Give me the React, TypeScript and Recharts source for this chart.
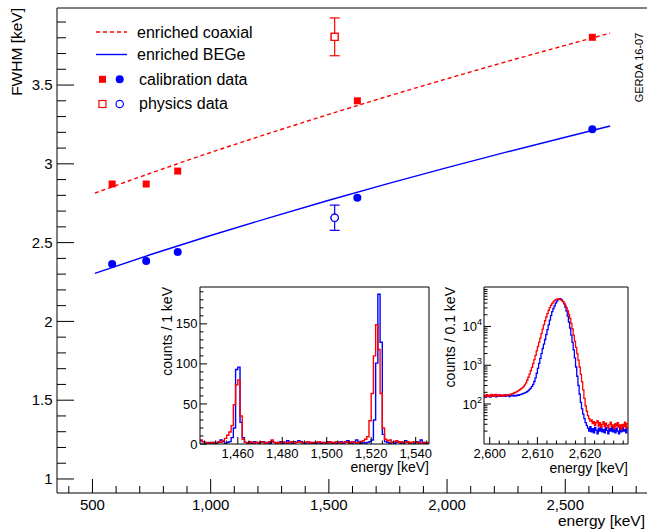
import React from 'react';
import { ComposedChart, LineChart, Line, Scatter, XAxis, YAxis, ErrorBar, ReferenceLine } from 'recharts';

const RED = '#ff0000';
const BLUE = '#0000ff';
const FONT = '"Liberation Sans", Arial, Helvetica, sans-serif';

// ---- main panel: FWHM vs energy ----
const calEnergies = [583.2, 727.3, 860.6, 1620.5, 2614.5];
const coaxCal = [2.872, 2.872, 2.954, 3.4, 3.803];
const begeCal = [2.364, 2.383, 2.44, 2.785, 3.219];

const physEnergy = [1524.6];
const coaxPhys = [3.806];
const coaxPhysErr = [0.12];
const begePhys = [2.658];
const begePhysErr = [0.08];

const fitEnergies = [510, 750, 1000, 1250, 1500, 1750, 2000, 2250, 2500, 2690];
const coaxFit = [2.814, 2.943, 3.072, 3.195, 3.314, 3.429, 3.54, 3.648, 3.752, 3.83];
const begeFit = [2.305, 2.426, 2.545, 2.659, 2.769, 2.874, 2.976, 3.074, 3.169, 3.24];

const X_DOMAIN = [350, 2850];
const Y_DOMAIN = [0.911, 3.989];
const xMajor = [500, 1000, 1500, 2000, 2500];
const yMajor = [1, 1.5, 2, 2.5, 3, 3.5];

// ---- inset 1: 1 keV bins starting at 1443 keV ----
const BIN1_START = 1443;
const begeCounts1 = [
  4, 3, 2, 1, 2, 1, 2, 1, 2, 5, 3, 1, 2, 3, 8, 20, 93, 96, 27, 8,
  2, 1, 2, 1, 3, 2, 1, 2, 3, 1, 2, 1, 3, 2, 1, 2, 3, 1, 2, 4,
  2, 1, 3, 2, 4, 3, 2, 1, 3, 2, 1, 2, 1, 3, 1, 2, 1, 3, 2, 1,
  2, 1, 2, 3, 1, 2, 4, 2, 1, 3, 5, 2, 1, 2, 1, 2, 3, 5, 30, 101,
  187, 127, 12, 3, 2, 1, 2, 1, 2, 3, 1, 2, 4, 2, 1, 2, 1, 3, 2, 5,
  2, 1, 1,
];
const coaxCounts1 = [
  5, 3, 2, 1, 1, 2, 1, 2, 3, 2, 4, 7, 11, 15, 23, 49, 74, 80, 35, 6,
  2, 1, 3, 2, 1, 2, 1, 3, 2, 1, 2, 3, 5, 2, 1, 2, 1, 3, 2, 1,
  2, 3, 1, 2, 3, 2, 1, 2, 3, 1, 2, 1, 2, 3, 2, 1, 2, 1, 3, 2,
  1, 3, 2, 1, 2, 3, 2, 1, 3, 2, 1, 2, 3, 4, 6, 9, 29, 63, 110, 149,
  118, 63, 20, 6, 4, 5, 2, 3, 4, 2, 3, 1, 2, 3, 1, 2, 3, 2, 1, 2,
  1, 2, 1,
];

// ---- inset 2: 0.25 keV steps starting at 2598.75 keV (counts / 0.1 keV) ----
const BIN2_START = 2598.75;
const BIN2_WIDTH = 0.25;
const begeCounts2 = [
  160, 148, 170, 155, 165, 150, 172, 158,
  163, 175, 152, 168, 160, 170, 157, 166,
  161, 173, 158, 164, 168, 155, 166, 162,
  170, 160, 166, 163, 172, 168, 175, 178,
  183, 188, 194, 200, 208, 220, 238, 258,
  285, 320, 380, 470, 620, 830, 1120, 1500,
  2000, 2700, 3500, 4600, 6200, 8300, 11000, 14500,
  19000, 24000, 29000, 34000, 40000, 45000, 49000, 52000,
  51500, 48500, 44000, 38000, 31500, 25000, 18500, 13000,
  9000, 6000, 3900, 2500, 1550, 900, 520, 300,
  180, 110, 75, 55, 42, 33, 28, 24,
  20, 26, 19, 23, 18, 25, 21, 17,
  24, 20, 26, 19, 22, 18, 25, 21,
  17, 23, 20, 26, 19, 22, 18, 24,
  20, 17, 23, 19, 25, 20, 22, 18,
  24,
];
const coaxCounts2 = [
  165, 152, 175, 160, 170, 158, 178, 162,
  172, 160, 176, 165, 158, 174, 163, 170,
  160, 168, 175, 165, 172, 170, 178, 182,
  186, 192, 198, 205, 214, 224, 235, 248,
  262, 280, 310, 350, 410, 490, 590, 720,
  880, 1100, 1400, 1800, 2350, 3000, 3900, 5000,
  6500, 8500, 11000, 14000, 17500, 21500, 26000, 30500,
  35000, 39000, 43000, 46500, 49000, 50500, 51000, 50000,
  49000, 47000, 44000, 40000, 35500, 30500, 25500, 20500,
  16000, 12000, 8600, 6000, 4200, 2900, 2000, 1350,
  900, 580, 370, 230, 140, 90, 65, 50,
  42, 36, 39, 31, 35, 28, 33, 37,
  27, 33, 25, 30, 35, 26, 32, 28,
  24, 30, 34, 26, 29, 23, 31, 27,
  33, 25, 29, 22, 30, 26, 34, 24,
  31,
];

// tables for recharts
const pts = (xs: number[], ys: number[], errs?: number[]) =>
  xs.map((e, i) => ({ e, v: ys[i], err: errs ? errs[i] : 0 }));

const coaxCalData = pts(calEnergies, coaxCal);
const begeCalData = pts(calEnergies, begeCal);
const coaxPhysData = pts(physEnergy, coaxPhys, coaxPhysErr);
const begePhysData = pts(physEnergy, begePhys, begePhysErr);
const coaxFitData = pts(fitEnergies, coaxFit);
const begeFitData = pts(fitEnergies, begeFit);

const histTable = (start: number, width: number, blue: number[], red: number[]) => {
  const rows = blue.map((b, i) => ({ e: start + i * width, blue: b, red: red[i] }));
  rows.push({ e: start + blue.length * width, blue: blue[blue.length - 1], red: red[red.length - 1] });
  return rows;
};
const peak1Data = histTable(BIN1_START, 1, begeCounts1, coaxCounts1);
const peak2Data = histTable(BIN2_START, BIN2_WIDTH, begeCounts2, coaxCounts2);

const range = (a: number, b: number, step: number) => {
  const out: number[] = [];
  for (let v = a; v <= b + 1e-9; v += step) out.push(Math.round(v * 1000) / 1000);
  return out;
};
const near = (v: number, list: number[]) => list.some((m) => Math.abs(m - v) < 1e-6);
const comma = (v: number) => v.toLocaleString('en-US');

const xTicks = range(400, 2800, 100);
const yTicks = range(1, 3.9, 0.1);

const MainXTick = ({ x, y, payload }: any) => {
  const major = near(payload.value, xMajor);
  return (
    <g>
      <line x1={x} x2={x} y1={y} y2={y - (major ? 14 : 7)} stroke="#000" />
      {major && (
        <text x={x} y={y + 17} textAnchor="middle" fontSize={15} fontFamily={FONT} fill="#000">
          {comma(payload.value)}
        </text>
      )}
    </g>
  );
};

const MainYTick = ({ x, y, payload }: any) => {
  const major = near(payload.value, yMajor);
  return (
    <g>
      <line x1={x} x2={x + (major ? 17 : 9)} y1={y} y2={y} stroke="#000" />
      {major && (
        <text x={x - 4.5} y={y + 5.3} textAnchor="end" fontSize={15} fontFamily={FONT} fill="#000">
          {String(payload.value)}
        </text>
      )}
    </g>
  );
};

const makeInsetX = (majors: number[]) => ({ x, y, payload }: any) => {
  const major = near(payload.value, majors);
  return (
    <g>
      <line x1={x} x2={x} y1={y} y2={y - (major ? 7 : 3.5)} stroke="#000" />
      {major && (
        <text x={x} y={y + 13.5} textAnchor="middle" fontSize={13} fontFamily={FONT} fill="#000">
          {comma(payload.value)}
        </text>
      )}
    </g>
  );
};

const makeInsetY = (majors: number[], log: boolean) => ({ x, y, payload }: any) => {
  const major = near(payload.value, majors);
  return (
    <g>
      <line x1={x} x2={x + (major ? 7 : 3.5)} y1={y} y2={y} stroke="#000" />
      {major && !log && (
        <text x={x - 2.5} y={y + 4.6} textAnchor="end" fontSize={13} fontFamily={FONT} fill="#000">
          {String(payload.value)}
        </text>
      )}
      {major && log && (
        <text x={x - 2} y={y + 4.6} textAnchor="end" fontSize={13} fontFamily={FONT} fill="#000">
          <tspan>10</tspan>
          <tspan dy={-6} fontSize={9}>{String(Math.round(Math.log10(payload.value)))}</tspan>
        </text>
      )}
    </g>
  );
};

const peak1XMajor = [1460, 1480, 1500, 1520, 1540];
const peak1YMajor = [0, 50, 100, 150];
const peak2XMajor = [2600, 2610, 2620];
const peak2YMajor = [100, 1000, 10000];
const peak2YTicks = [20, 30, 40, 50, 60, 70, 80, 90, 100, 200, 300, 400, 500, 600, 700, 800, 900, 1000,
  2000, 3000, 4000, 5000, 6000, 7000, 8000, 9000, 10000, 20000, 30000, 40000, 50000, 60000, 70000, 80000, 90000];

const Peak1XTick = makeInsetX(peak1XMajor);
const Peak1YTick = makeInsetY(peak1YMajor, false);
const Peak2XTick = makeInsetX(peak2XMajor);
const Peak2YTick = makeInsetY(peak2YMajor, true);

const filledSquare = (p: any) => <rect x={p.cx - 3.5} y={p.cy - 3.5} width={7} height={7} fill={RED} />;
const filledCircle = (p: any) => <circle cx={p.cx} cy={p.cy} r={4} fill={BLUE} />;
const openSquare = (p: any) => (
  <rect x={p.cx - 3.5} y={p.cy - 3.5} width={7} height={7} fill="#fff" stroke={RED} strokeWidth={1.2} />
);
const openCircle = (p: any) => <circle cx={p.cx} cy={p.cy} r={3.7} fill="#fff" stroke={BLUE} strokeWidth={1.2} />;

const txt = { fontFamily: FONT, fill: '#000' };

const App: React.FC = () => {
  return (
    <div style={{ position: 'absolute', left: 0, top: 0, width: 647, height: 529, overflow: 'hidden', background: '#fff' }}>
      <div style={{ position: 'absolute', left: 0, top: 0 }}>
        <ComposedChart width={649} height={529} margin={{ top: 8, right: 1, bottom: 0, left: 0 }}>
          <XAxis
            dataKey="e"
            type="number"
            domain={X_DOMAIN}
            allowDataOverflow
            ticks={xTicks}
            interval={0}
            tick={MainXTick}
            tickLine={false}
            tickSize={0}
            tickMargin={0}
            height={36}
            axisLine={{ stroke: '#000' }}
          />
          <YAxis
            dataKey="v"
            type="number"
            domain={Y_DOMAIN}
            allowDataOverflow
            ticks={yTicks}
            interval={0}
            tick={MainYTick}
            tickLine={false}
            tickSize={0}
            tickMargin={0}
            width={57}
            axisLine={{ stroke: '#000' }}
          />
          <ReferenceLine y={Y_DOMAIN[1]} stroke="#000" />
          <Line data={coaxFitData} dataKey="v" type="monotone" stroke={RED} strokeWidth={1.4} strokeDasharray="4 3" dot={false} isAnimationActive={false} />
          <Line data={begeFitData} dataKey="v" type="monotone" stroke={BLUE} strokeWidth={1.4} dot={false} isAnimationActive={false} />
          <Scatter data={coaxCalData} dataKey="v" shape={filledSquare} isAnimationActive={false} />
          <Scatter data={begeCalData} dataKey="v" shape={filledCircle} isAnimationActive={false} />
          <Scatter data={coaxPhysData} dataKey="v" shape={openSquare} isAnimationActive={false}>
            <ErrorBar dataKey="err" direction="y" width={5} stroke={RED} strokeWidth={1.2} />
          </Scatter>
          <Scatter data={begePhysData} dataKey="v" shape={openCircle} isAnimationActive={false}>
            <ErrorBar dataKey="err" direction="y" width={5} stroke={BLUE} strokeWidth={1.2} />
          </Scatter>
          <Scatter data={coaxPhysData} dataKey="v" shape={openSquare} isAnimationActive={false} />
          <Scatter data={begePhysData} dataKey="v" shape={openCircle} isAnimationActive={false} />
        </ComposedChart>
      </div>

      <div style={{ position: 'absolute', left: 150, top: 280 }}>
        <LineChart width={290} height={200} data={peak1Data} margin={{ top: 7, right: 11, bottom: 0, left: 0 }}>
          <XAxis
            dataKey="e"
            type="number"
            domain={[1443, 1546]}
            allowDataOverflow
            ticks={range(1445, 1545, 5)}
            interval={0}
            tick={Peak1XTick}
            tickLine={false}
            tickSize={0}
            tickMargin={0}
            height={36}
            axisLine={{ stroke: '#000' }}
          />
          <YAxis
            type="number"
            domain={[0, 196]}
            allowDataOverflow
            ticks={range(0, 190, 10)}
            interval={0}
            tick={Peak1YTick}
            tickLine={false}
            tickSize={0}
            tickMargin={0}
            width={50}
            axisLine={{ stroke: '#000' }}
          />
          <ReferenceLine y={196} stroke="#000" />
          <ReferenceLine x={1546} stroke="#000" />
          <Line dataKey="blue" type="stepAfter" stroke={BLUE} strokeWidth={1.4} dot={false} isAnimationActive={false} />
          <Line dataKey="red" type="stepAfter" stroke={RED} strokeWidth={1.4} dot={false} isAnimationActive={false} />
        </LineChart>
      </div>

      <div style={{ position: 'absolute', left: 440, top: 280 }}>
        <LineChart width={200} height={200} data={peak2Data} margin={{ top: 7, right: 12, bottom: 0, left: 0 }}>
          <XAxis
            dataKey="e"
            type="number"
            domain={[2598.8, 2629]}
            allowDataOverflow
            ticks={range(2600, 2628, 2)}
            interval={0}
            tick={Peak2XTick}
            tickLine={false}
            tickSize={0}
            tickMargin={0}
            height={36}
            axisLine={{ stroke: '#000' }}
          />
          <YAxis
            type="number"
            scale="log"
            domain={[9.3, 104000]}
            allowDataOverflow
            ticks={peak2YTicks}
            interval={0}
            tick={Peak2YTick}
            tickLine={false}
            tickSize={0}
            tickMargin={0}
            width={44}
            axisLine={{ stroke: '#000' }}
          />
          <ReferenceLine y={104000} stroke="#000" />
          <ReferenceLine x={2629} stroke="#000" />
          <Line dataKey="blue" type="stepAfter" stroke={BLUE} strokeWidth={1.3} dot={false} isAnimationActive={false} />
          <Line dataKey="red" type="stepAfter" stroke={RED} strokeWidth={1.3} dot={false} isAnimationActive={false} />
        </LineChart>
      </div>

      <svg width={647} height={529} style={{ position: 'absolute', left: 0, top: 0, pointerEvents: 'none' }}>
        {/* axis titles */}
        <text transform="translate(21.5, 8) rotate(-90)" textAnchor="end" fontSize={15.5} {...txt}>FWHM [keV]</text>
        <text x={645} y={526} textAnchor="end" fontSize={15.5} {...txt}>energy [keV]</text>
        <text transform="translate(642.5, 67.5) rotate(-90)" textAnchor="middle" fontSize={11} {...txt}>GERDA 16-07</text>

        {/* legend */}
        <line x1={96} x2={127} y1={32} y2={32} stroke={RED} strokeWidth={1.4} strokeDasharray="4 3" />
        <text x={137} y={37.5} fontSize={16} {...txt}>enriched coaxial</text>
        <line x1={96} x2={127} y1={54.5} y2={54.5} stroke={BLUE} strokeWidth={1.4} />
        <text x={137} y={60} fontSize={16} {...txt}>enriched BEGe</text>
        <rect x={99} y={75.8} width={7} height={7} fill={RED} />
        <circle cx={119.7} cy={79.3} r={4} fill={BLUE} />
        <text x={139} y={84.5} fontSize={16} {...txt}>calibration data</text>
        <rect x={99} y={100.5} width={7} height={7} fill="#fff" stroke={RED} strokeWidth={1.2} />
        <circle cx={119.7} cy={104} r={3.7} fill="#fff" stroke={BLUE} strokeWidth={1.2} />
        <text x={139} y={108.7} fontSize={16} {...txt}>physics data</text>

        {/* inset titles */}
        <text transform="translate(171.5, 287) rotate(-90)" textAnchor="end" fontSize={14} {...txt}>counts / 1 keV</text>
        <text x={429} y={472} textAnchor="end" fontSize={14} {...txt}>energy [keV]</text>
        <text transform="translate(455, 287) rotate(-90)" textAnchor="end" fontSize={14} {...txt}>counts / 0.1 keV</text>
        <text x={628} y={473} textAnchor="end" fontSize={14} {...txt}>energy [keV]</text>
      </svg>
    </div>
  );
};

export default App;
